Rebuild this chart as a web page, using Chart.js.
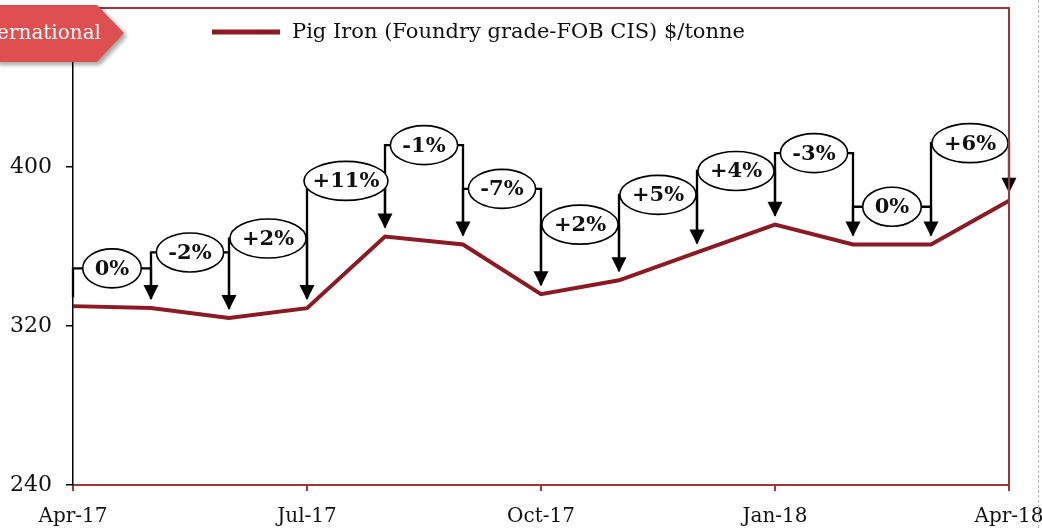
<!DOCTYPE html>
<html>
<head>
<meta charset="utf-8">
<script src="https://cdn.jsdelivr.net/npm/chart.js@4.4.0/dist/chart.umd.min.js"></script>
<style>
  html, body { margin: 0; padding: 0; background: #fff; }
</style>
</head>
<body>
<canvas id="myChart" width="1042" height="529"></canvas>
<script>
// data
const months = ['Apr-17', 'May-17', 'Jun-17', 'Jul-17', 'Aug-17', 'Sep-17', 'Oct-17',
    'Nov-17', 'Dec-17', 'Jan-18', 'Feb-18', 'Mar-18', 'Apr-18'];
const pigIron = [330, 329, 324, 329, 365, 361, 336, 343, 357, 371, 361, 361, 383];
const changeLabels = ['0%', '-2%', '+2%', '+11%', '-1%', '-7%', '+2%', '+5%', '+4%', '-3%', '0%', '+6%'];
// height (in $/tonne) at which each change bubble sits
const labelLevels = [349, 357, 364, 393, 411, 389, 371, 386, 398, 407, 380, 412];
const yTickLabels = [240, 320, 400];
const seriesName = 'Pig Iron (Foundry grade-FOB CIS) $/tonne';
const badgeText = 'International';

const RED = '#a2343a';
const LINE = '#8b1a24';
const SERIF = '"DejaVu Serif", serif';

const drawArrows = {
    id: 'drawArrows',
    afterDatasetsDraw(chart) {
        const { ctx, scales: { x, y } } = chart;
        ctx.save();
        ctx.font = 'bold 21px ' + SERIF;
        const boxes = [];
        ctx.strokeStyle = '#000';
        ctx.fillStyle = '#000';
        ctx.lineWidth = 2.3;
        for (let i = 0; i < changeLabels.length; i++) {
            const x0 = x.getPixelForValue(i);
            const x1 = x.getPixelForValue(i + 1);
            const ly = y.getPixelForValue(labelLevels[i]);
            const y0 = y.getPixelForValue(pigIron[i]) - 9;
            const y1 = y.getPixelForValue(pigIron[i + 1]) - 8;
            const cx = (x0 + x1) / 2;
            const tw = ctx.measureText(changeLabels[i]).width;
            const rx = Math.min(tw / 2 + 12, (x1 - x0) / 2 + 3);
            boxes.push({ cx, ly, rx, text: changeLabels[i] });

            ctx.beginPath();
            ctx.moveTo(x0, y0);
            ctx.lineTo(x0, ly);
            ctx.lineTo(x1, ly);
            ctx.lineTo(x1, y1 - 14);
            ctx.stroke();

            ctx.beginPath();
            ctx.moveTo(x1, y1);
            ctx.lineTo(x1 - 7.5, y1 - 15);
            ctx.lineTo(x1 + 7.5, y1 - 15);
            ctx.closePath();
            ctx.fill();
        }
        ctx.lineWidth = 1.6;
        ctx.textAlign = 'center';
        ctx.textBaseline = 'middle';
        boxes.forEach(b => {
            ctx.beginPath();
            ctx.ellipse(b.cx, b.ly, b.rx, 19.5, 0, 0, Math.PI * 2);
            ctx.fillStyle = '#fff';
            ctx.fill();
            ctx.stroke();
            ctx.fillStyle = '#111';
            ctx.fillText(b.text, b.cx, b.ly + 1);
        });
        ctx.restore();
    },
    afterDraw(chart) {
        const { ctx, chartArea: a } = chart;
        ctx.save();
        // frame top + right
        ctx.strokeStyle = RED;
        ctx.lineWidth = 2;
        ctx.beginPath();
        ctx.moveTo(a.left, a.top);
        ctx.lineTo(a.right, a.top);
        ctx.lineTo(a.right, a.bottom);
        ctx.stroke();

        // legend
        ctx.strokeStyle = LINE;
        ctx.lineWidth = 5;
        ctx.beginPath();
        ctx.moveTo(212, 32);
        ctx.lineTo(280, 32);
        ctx.stroke();
        ctx.fillStyle = '#111';
        ctx.font = '21px ' + SERIF;
        ctx.textBaseline = 'middle';
        ctx.fillText(seriesName, 292, 33);

        // dashed selection edge on the right
        ctx.strokeStyle = '#b5b5b5';
        ctx.lineWidth = 1;
        ctx.setLineDash([3, 2]);
        ctx.beginPath();
        ctx.moveTo(1038.5, 0);
        ctx.lineTo(1038.5, 529);
        ctx.stroke();
        ctx.setLineDash([]);

        // red badge top-left
        ctx.shadowColor = 'rgba(0,0,0,0.35)';
        ctx.shadowBlur = 4;
        ctx.shadowOffsetX = 3;
        ctx.shadowOffsetY = 3;
        ctx.fillStyle = '#df4f4f';
        ctx.beginPath();
        ctx.moveTo(-5, 5);
        ctx.lineTo(97, 5);
        ctx.lineTo(124, 33);
        ctx.lineTo(97, 62);
        ctx.lineTo(-5, 62);
        ctx.closePath();
        ctx.fill();
        ctx.shadowColor = 'transparent';
        ctx.fillStyle = '#fff';
        ctx.font = '20px ' + SERIF;
        ctx.textAlign = 'right';
        ctx.textBaseline = 'middle';
        ctx.fillText(badgeText, 101, 34);
        ctx.restore();
    }
};

new Chart(document.getElementById('myChart'), {
    type: 'line',
    data: {
        labels: months,
        datasets: [{
            label: seriesName,
            data: pigIron,
            borderColor: LINE,
            borderWidth: 4,
            pointRadius: 0,
            tension: 0,
            fill: false
        }]
    },
    options: {
        responsive: false,
        animation: false,
        devicePixelRatio: 1,
        layout: { padding: { left: 0, right: 33, top: 8, bottom: 0 } },
        plugins: {
            legend: { display: false },
            tooltip: { enabled: false }
        },
        scales: {
            x: {
                offset: false,
                afterFit: s => { s.height = 44; s.paddingLeft = 0; s.paddingRight = 0; },
                border: { color: RED, width: 2 },
                grid: {
                    drawOnChartArea: false,
                    tickLength: 6,
                    lineWidth: 2,
                    color: c => (c.index % 3 === 0 ? RED : 'rgba(0,0,0,0)')
                },
                ticks: {
                    autoSkip: false,
                    maxRotation: 0,
                    padding: 14,
                    color: '#111',
                    font: { family: SERIF, size: 20 },
                    callback: (v, i) => (i % 3 === 0 ? months[i] : '')
                }
            },
            y: {
                min: 240,
                max: 480,
                afterFit: s => { s.width = 73; s.paddingTop = 0; s.paddingBottom = 0; },
                border: { color: '#000', width: 1.5 },
                grid: {
                    drawOnChartArea: false,
                    tickLength: 7,
                    lineWidth: 1.5,
                    color: c => (yTickLabels.includes(c.tick.value) ? '#000' : 'rgba(0,0,0,0)')
                },
                ticks: {
                    stepSize: 80,
                    padding: 14,
                    color: '#111',
                    font: { family: SERIF, size: 22 },
                    callback: v => (yTickLabels.includes(v) ? v : '')
                }
            }
        }
    },
    plugins: [drawArrows]
});
</script>
</body>
</html>
